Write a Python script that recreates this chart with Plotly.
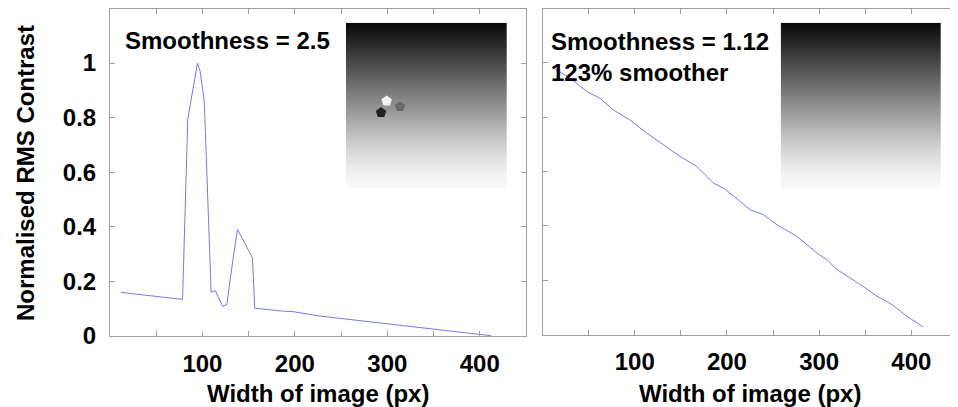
import plotly.graph_objects as go

# ---- data ----
left_x = [11.6, 78.5, 84.1, 89.4, 94.6, 97.5, 102.0, 109.4, 114.0, 121.8, 126.4,
          133.2, 137.9, 154.1, 156.6, 184.0, 198.5, 227.4, 321.3, 400.7, 412.3]
left_y = [0.160, 0.134, 0.794, 0.897, 1.000, 0.970, 0.860, 0.160, 0.166, 0.108, 0.116,
          0.285, 0.391, 0.286, 0.102, 0.092, 0.089, 0.073, 0.037, 0.007, 0.001]

right_x = [10.2, 30.0, 48.2, 62.6, 77.0, 95.0, 113.2, 131.2, 149.3, 167.5, 185.5, 198.0,
           212.6, 225.3, 239.7, 254.2, 276.0, 297.6, 308.5, 319.3, 344.6, 362.7, 379.0,
           395.2, 412.6]
right_y = [0.985, 0.943, 0.894, 0.869, 0.826, 0.789, 0.741, 0.698, 0.655, 0.618, 0.557, 0.535,
           0.496, 0.459, 0.441, 0.404, 0.361, 0.300, 0.275, 0.239, 0.184, 0.141, 0.110,
           0.067, 0.028]

x_tick_vals = [50, 100, 150, 200, 250, 300, 350, 400]
x_tick_text = ["", "100", "", "200", "", "300", "", "400"]
y_tick_vals = [0, 0.2, 0.4, 0.6, 0.8, 1.0]
y_tick_text = ["0", "0.2", "0.4", "0.6", "0.8", "1"]

# inset image: grey levels from top to bottom of the gradient thumbnail
inset_gray_levels = [10, 35, 62, 90, 118, 145, 172, 198, 222, 240, 250]
# shapes in the left thumbnail (position in thumbnail fractions, grey value)
shape_x = [0.253, 0.336, 0.218]
shape_y = [0.526, 0.492, 0.456]
shape_colors = ["#f2f2f2", "#6a6a6a", "#222222"]

# page has an 8px body margin, so the figure is offset by 8px
OFF = 8
W, H = 958 - OFF, 407 - OFF
FONT = "Liberation Sans, Arial, sans-serif"
LINE = "#7878e6"
FRAME = "#a0a0a0"


def px_x(p):
    return min(1.0, max(0.0, (p - OFF) / W))


def px_y(p):
    return min(1.0, max(0.0, (H - (p - OFF)) / H))


fig = go.Figure()

fig.add_trace(go.Scatter(x=left_x, y=left_y, mode="lines",
                         line=dict(color=LINE, width=1), xaxis="x", yaxis="y",
                         showlegend=False, hoverinfo="skip"))
fig.add_trace(go.Scatter(x=right_x, y=right_y, mode="lines",
                         line=dict(color=LINE, width=1), xaxis="x2", yaxis="y2",
                         showlegend=False, hoverinfo="skip"))

n = len(inset_gray_levels)
rows_y = [1 - i / (n - 1) for i in range(n)]
z = [[g, g] for g in inset_gray_levels]
for xa, ya in (("x3", "y3"), ("x4", "y4")):
    fig.add_trace(go.Heatmap(z=z, x=[0, 1], y=rows_y, zmin=0, zmax=255,
                             colorscale=[[0, "black"], [1, "white"]],
                             showscale=False, zsmooth="best", xaxis=xa, yaxis=ya,
                             hoverinfo="skip"))

fig.add_trace(go.Scatter(x=shape_x, y=shape_y, mode="markers",
                         marker=dict(symbol="pentagon", size=11, color=shape_colors,
                                     line=dict(width=0)),
                         xaxis="x3", yaxis="y3", showlegend=False, hoverinfo="skip"))

tickfont = dict(family=FONT, size=24, color="black", weight="bold")

common_x = dict(range=[0, 450], tickvals=x_tick_vals, ticktext=x_tick_text,
                ticks="inside", ticklen=5, tickcolor=FRAME, showline=True,
                linecolor=FRAME, linewidth=1, mirror="ticks", showgrid=False,
                zeroline=False, tickfont=tickfont, ticklabelstandoff=6,
                automargin=False)
common_y = dict(range=[0, 1.2], tickvals=y_tick_vals, ticktext=y_tick_text,
                ticks="inside", ticklen=5, tickcolor=FRAME, showline=True,
                linecolor=FRAME, linewidth=1, mirror="ticks", showgrid=False,
                zeroline=False, tickfont=tickfont, ticklabelstandoff=8,
                automargin=False)

inset_ax = dict(range=[0, 1], visible=False, showgrid=False, zeroline=False,
                fixedrange=True, automargin=False)

fig.update_layout(
    width=W, height=H, margin=dict(l=0, r=0, t=0, b=0, autoexpand=False),
    paper_bgcolor="white", plot_bgcolor="rgba(0,0,0,0)",
    xaxis=dict(domain=[px_x(110), px_x(526)], anchor="y", **common_x),
    yaxis=dict(domain=[px_y(336), px_y(8.5)], anchor="x", **common_y),
    xaxis2=dict(domain=[px_x(542.5), px_x(957.5)], anchor="y2", **common_x),
    yaxis2=dict(domain=[px_y(334.5), px_y(8.5)], anchor="x2", showticklabels=False,
                **common_y),
    xaxis3=dict(domain=[px_x(346), px_x(506.7)], anchor="y3", **inset_ax),
    yaxis3=dict(domain=[px_y(188), px_y(22.7)], anchor="x3", **inset_ax),
    xaxis4=dict(domain=[px_x(780.7), px_x(941)], anchor="y4", **inset_ax),
    yaxis4=dict(domain=[px_y(189), px_y(22.7)], anchor="x4", **inset_ax),
    showlegend=False,
)

labfont = dict(family=FONT, size=24, color="black", weight="bold")
annots = [
    dict(text="Width of image (px)", x=px_x(318), y=px_y(393), xanchor="center",
         yanchor="middle"),
    dict(text="Width of image (px)", x=px_x(750), y=px_y(393), xanchor="center",
         yanchor="middle"),
    dict(text="Normalised RMS Contrast", x=px_x(25), y=px_y(173), xanchor="center",
         yanchor="middle", textangle=-90),
    dict(text="Smoothness = 2.5", x=px_x(123), y=px_y(40), xanchor="left",
         yanchor="middle"),
    dict(text="Smoothness = 1.12<br>123% smoother", x=px_x(549), y=px_y(57),
         xanchor="left", yanchor="middle", align="left"),
]
for a in annots:
    fig.add_annotation(xref="paper", yref="paper", showarrow=False, font=labfont, **a)

fig.write_html("out.html")
